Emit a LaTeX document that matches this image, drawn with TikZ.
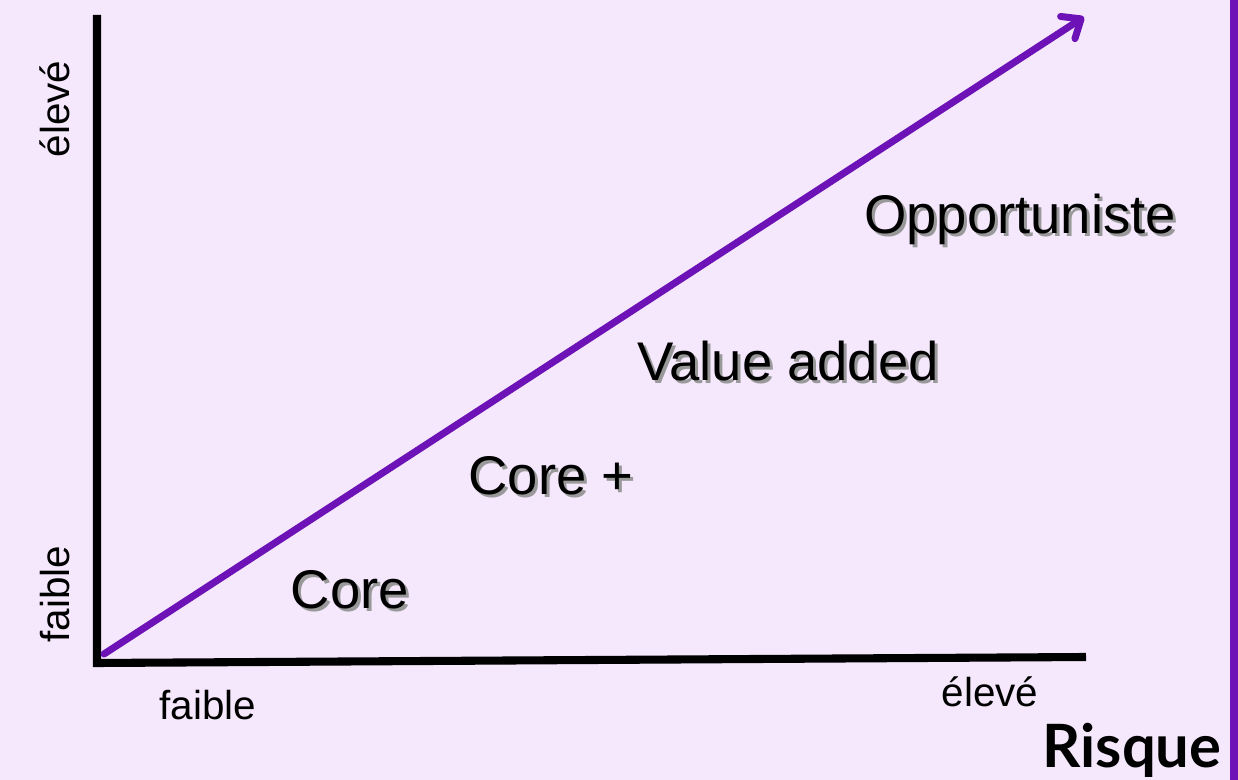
\documentclass[tikz,border=0pt]{standalone}
\usepackage{fontspec}
\setmainfont{Liberation Sans}
\newfontfamily\boldfont{Lato}
\usepackage{xcolor}
\usetikzlibrary{arrows.meta}

\definecolor{bgpurple}{HTML}{F5E8FD}
\definecolor{darkpurple}{HTML}{6C12B6}

\begin{document}
\begin{tikzpicture}[x=0.02cm,y=-0.02cm,
    axis/.style={line width=4.6pt},
    zone/.style={font=\fontsize{31}{36}\selectfont},
    zoneshadow/.style={zone,text=black!40,xshift=0.06cm,yshift=-0.06cm},
    tick/.style={font=\fontsize{23}{27}\selectfont}]
    \fill[bgpurple] (0,0) rectangle (1238,780);
    \fill[darkpurple] (1230,0) rectangle (1238,780);
    \useasboundingbox (0,0) rectangle (1238,780);

    \coordinate (O) at (97,663);
    \coordinate (Y) at (97,15);
    \coordinate (X) at (1086,657);
    \coordinate (S) at (104,654);
    \coordinate (E) at (1084,17);

    \draw[axis] (Y) -- (O) -- (X);
    \draw[darkpurple,line width=4pt,line cap=round,
        -{Straight Barb[length=9pt,width=15pt,line cap=round,line join=round]}] (S) -- (E);

    \node[zoneshadow] at (350,590) {Core};
    \node[zone] (core) at (350,590) {Core};
    \node[zoneshadow] at (551,476) {Core +};
    \node[zone] (coreplus) at (551,476) {Core +};
    \node[zoneshadow] at (788,361) {Value added};
    \node[zone] (value) at (788,361) {Value added};
    \node[zoneshadow] at (1020,219) {Opportuniste};
    \node[zone] (opport) at (1020,219) {Opportuniste};

    \node[tick,rotate=90] (ylow) at (55,594) {faible};
    \node[tick,rotate=90] (yhigh) at (55,109) {élevé};
    \node[tick] (xlow) at (208,705) {faible};
    \node[tick] (xhigh) at (990,692) {élevé};
    \node[font=\boldfont\bfseries\fontsize{34}{40}\selectfont] (risk) at (1132,750) {Risque};
\end{tikzpicture}
\end{document}
